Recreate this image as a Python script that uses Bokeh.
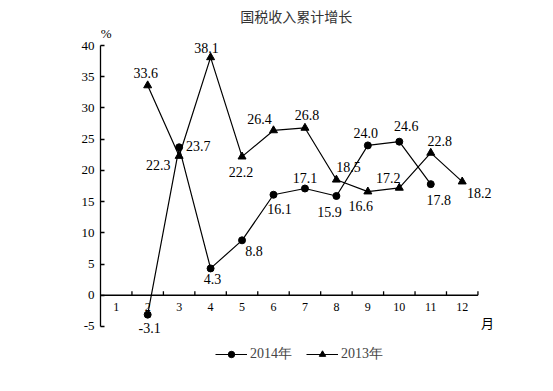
import math
from bokeh.plotting import figure
from bokeh.models import Range1d, FixedTicker, Legend, LegendItem, ColumnDataSource
from bokeh.core.properties import value
from bokeh.embed import file_html
from bokeh.resources import INLINE

# ---- data ----
title_text = "国税收入累计增长"
months = [1, 2, 3, 4, 5, 6, 7, 8, 9, 10, 11, 12]
month_labels = ["1", "2", "3", "4", "5", "6", "7", "8", "9", "10", "11", "12"]
x_2014 = [2, 3, 4, 5, 6, 7, 8, 9, 10, 11]
y_2014 = [-3.1, 23.7, 4.3, 8.8, 16.1, 17.1, 15.9, 24.0, 24.6, 17.8]
x_2013 = [2, 3, 4, 5, 6, 7, 8, 9, 10, 11, 12]
y_2013 = [33.6, 22.3, 38.1, 22.2, 26.4, 26.8, 18.5, 16.6, 17.2, 22.8, 18.2]
y_ticks = [-5, 0, 5, 10, 15, 20, 25, 30, 35, 40]
series_names = ["2014年", "2013年"]

# ---- label placement (screen px, y down) ----
dx_2014 = [2, 19, 2, 12, 6, 0, -7, -2, 7, 8]
dy_2014 = [13, -1, 11, 11, 14, -11, 16, -12, -16, 16]
dx_2013 = [-2, -21, -4, -1, -14, 2, 12, -7, -11, 9, 17]
dy_2013 = [-12, 9, -9, 15, -11, -13, -13, 14, -10, -12, 11]

SERIF = value("Liberation Serif")
CJK = value("Noto Sans CJK SC")
FS = "14px"

p = figure(width=545, height=383, output_backend="svg", toolbar_location=None,
           x_range=Range1d(0.5, 14.33), y_range=Range1d(-14.13, 47.21),
           x_axis_location=None, min_border_left=100, min_border_right=10,
           min_border_top=0, min_border_bottom=0)
p.outline_line_color = None
p.xgrid.visible = False
p.ygrid.visible = False
p.background_fill_color = "white"

ax = p.yaxis[0]
ax.ticker = FixedTicker(ticks=y_ticks)
ax.major_label_overrides = {t: str(t) for t in y_ticks}
ax.bounds = (min(y_ticks), max(y_ticks))
ax.major_tick_in = 4
ax.major_tick_out = 0
ax.minor_tick_line_color = None
ax.axis_line_width = 1.3
ax.major_tick_line_width = 1.3
ax.major_label_text_font = "Liberation Serif"
ax.major_label_text_font_size = "13px"
ax.major_label_text_color = "black"
ax.major_label_standoff = 6

# zero line with category ticks
p.segment(x0=[months[0] - 0.5], y0=[0], x1=[months[-1] + 0.5], y1=[0],
          line_color="black", line_width=1.3)
bx = [m + 0.5 for m in months]
p.segment(x0=bx, y0=[0] * len(bx), x1=bx, y1=[0.64] * len(bx),
          line_color="black", line_width=1.3)
p.text(x=months, y=[0] * len(months), text=month_labels, y_offset=12,
       text_align="center", text_baseline="middle", text_font=SERIF,
       text_font_size="12px", text_color="black")

# series
l14 = p.line(x_2014, y_2014, line_color="black", line_width=1.2)
s14 = p.scatter(x_2014, y_2014, marker="circle", size=7, color="black")
l13 = p.line(x_2013, y_2013, line_color="black", line_width=1.2)
s13 = p.scatter(x_2013, y_2013, marker="triangle", size=8, color="black")

src14 = ColumnDataSource(dict(x=x_2014, y=y_2014, t=[f"{v:.1f}" for v in y_2014],
                              dx=dx_2014, dy=dy_2014))
src13 = ColumnDataSource(dict(x=x_2013, y=y_2013, t=[f"{v:.1f}" for v in y_2013],
                              dx=dx_2013, dy=dy_2013))
for src in (src14, src13):
    p.text(x="x", y="y", text="t", x_offset="dx", y_offset="dy", source=src,
           text_align="center", text_baseline="middle", text_font=SERIF,
           text_font_size=FS, text_color="black")

# title, unit labels
p.text(x=[6.72], y=[44.8], text=[title_text], text_align="center",
       text_baseline="middle", text_font=CJK, text_font_size=FS, text_color="#333333")
p.text(x=[0.68], y=[41.9], text=["%"], text_align="center", text_baseline="middle",
       text_font=SERIF, text_font_size="13px", text_color="black")
p.text(x=[12.8], y=[-4.36], text=["月"], text_align="center", text_baseline="middle",
       text_font=CJK, text_font_size="13px", text_color="black")

legend = Legend(items=[LegendItem(label=series_names[0], renderers=[l14, s14]),
                       LegendItem(label=series_names[1], renderers=[l13, s13])],
                orientation="horizontal", location=(115, 20))
legend.border_line_color = None
legend.background_fill_alpha = 0
legend.padding = 0
legend.margin = 0
legend.spacing = 14
legend.glyph_width = 32
legend.glyph_height = 16
legend.label_height = 16
legend.label_standoff = 3
legend.label_text_font = "Liberation Serif"
legend.label_text_font_size = FS
p.add_layout(legend, "center")

open("out.html", "w").write(file_html(p, INLINE))
